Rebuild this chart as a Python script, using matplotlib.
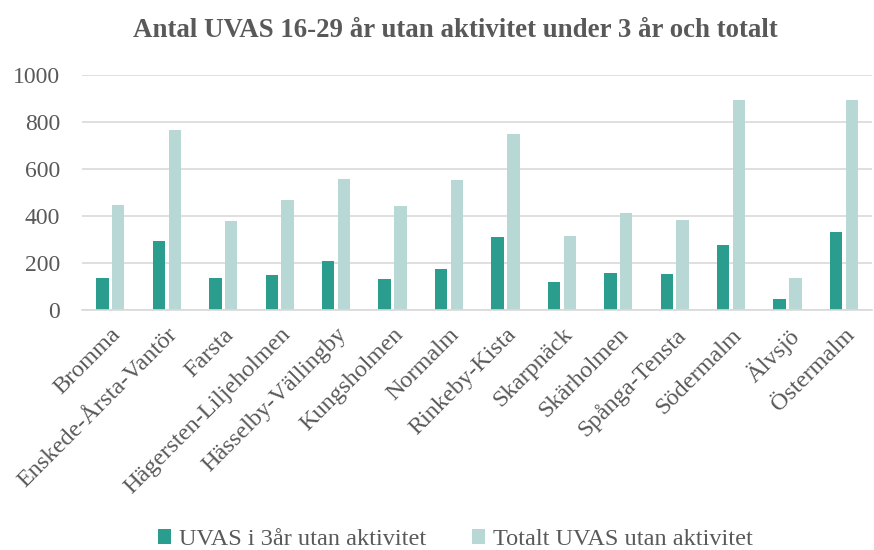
import numpy as np
import matplotlib.pyplot as plt

plt.rcParams['font.family'] = ['Liberation Serif', 'DejaVu Serif']

omraden = ['Bromma', 'Enskede-Årsta-Vantör', 'Farsta', 'Hägersten-Liljeholmen',
           'Hässelby-Vällingby', 'Kungsholmen', 'Normalm', 'Rinkeby-Kista',
           'Skarpnäck', 'Skärholmen', 'Spånga-Tensta', 'Södermalm', 'Älvsjö',
           'Östermalm']
uvas_3ar = [135, 293, 137, 149, 211, 133, 177, 309, 118, 160, 152, 276, 47, 333]
uvas_totalt = [449, 765, 381, 470, 559, 442, 552, 748, 314, 411, 382, 891, 135, 895]

c_dark = '#2a9d8f'
c_light = '#b7d8d5'

fig, ax = plt.subplots(figsize=(8.74, 5.5), dpi=100)
fig.subplots_adjust(left=0.094, right=0.998, top=0.864, bottom=0.436)

x = np.arange(len(omraden))
w = 0.22
ax.bar(x - 0.14, uvas_3ar, w, color=c_dark, label='UVAS i 3år utan aktivitet')
ax.bar(x + 0.14, uvas_totalt, w, color=c_light, label='Totalt UVAS utan aktivitet')

ax.set_xlim(-0.5, len(omraden) - 0.5)
ax.set_ylim(0, 1000)
ax.set_yticks(range(0, 1001, 200))
ax.yaxis.grid(True, color='#d9d9d9', linewidth=1.2)
ax.set_axisbelow(True)
for s in ['top', 'right', 'left']:
    ax.spines[s].set_visible(False)
ax.spines['bottom'].set_color('#d9d9d9')
ax.spines['bottom'].set_linewidth(1.2)
ax.tick_params(length=0, labelcolor='#595959')
ax.tick_params(axis='y', labelsize=17, pad=16)
ax.tick_params(axis='x', labelsize=17.5, pad=10)

ax.set_xticks(x)
ax.set_xticklabels(omraden, rotation=45, ha='right', rotation_mode='anchor')

fig.suptitle('Antal UVAS 16-29 år utan aktivitet under 3 år och totalt',
             fontsize=19.4, fontweight='bold', color='#595959', x=0.521, y=0.967)

fig.legend(loc='lower center', ncol=2, frameon=False, fontsize=17.5,
           bbox_to_anchor=(0.521, -0.04), handlelength=0.55, handleheight=0.55,
           handletextpad=0.3, columnspacing=1.9, labelcolor='#595959')

fig.savefig('out.png', dpi=100)
